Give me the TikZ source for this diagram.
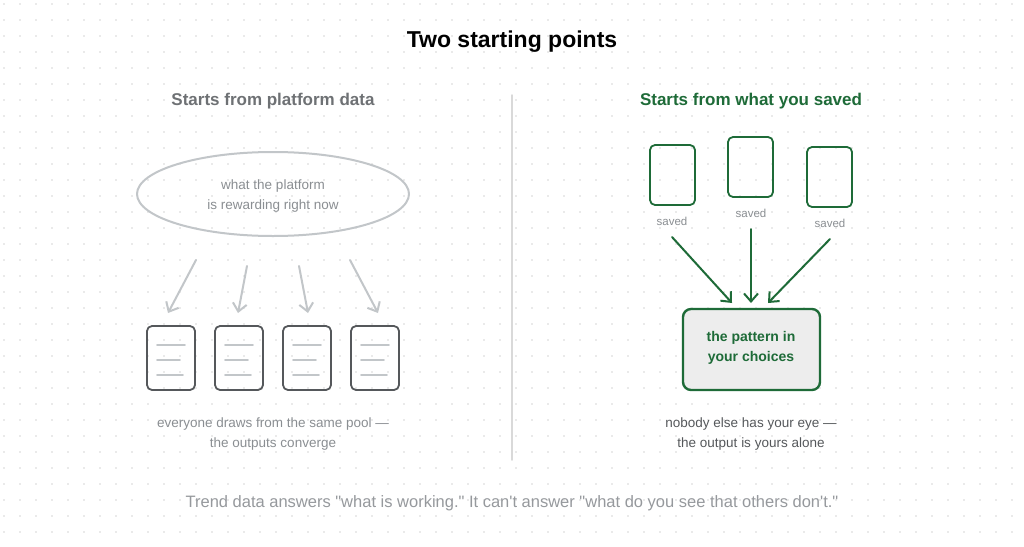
\documentclass[tikz,border=0pt]{standalone}
\usepackage{fontspec}
\setmainfont[Ligatures=TeXOff]{Liberation Sans}
\usetikzlibrary{arrows.meta}
\definecolor{leafgreen}{HTML}{1E6B38}
\definecolor{mutedgray}{HTML}{8A8E92}
\definecolor{paleline}{HTML}{C2C6C9}
\definecolor{docedge}{HTML}{55585B}
\tikzset{
  doc/.style={draw=docedge,line width=1.8pt,rounded corners=5pt},
  keep/.style={draw=leafgreen,line width=1.8pt,rounded corners=5pt},
  drift/.style={->,>={Straight Barb[length=8pt,width=14pt]},draw=paleline,line width=2pt},
  pull/.style={->,>={Straight Barb[length=8pt,width=14pt]},draw=leafgreen,line width=2pt},
}
\begin{document}
\begin{tikzpicture}[x=1pt,y=-1pt,line cap=round,line join=round]
  \useasboundingbox (0,0) rectangle (1024,546);
  \fill[white] (0,0) rectangle (1024,546);
  % dotted paper
  \foreach \i in {0,...,64}
    \foreach \j in {0,...,34}
      \fill[black!16] (\i*16+4,\j*16+4) circle (0.8pt);
  \node (title) at (512,42) {\fontsize{23}{26}\selectfont\bfseries Two starting points};
  \node[text=docedge!85] (lefthead) at (273,101) {\fontsize{17}{20}\selectfont\bfseries Starts from platform data};
  \node[text=leafgreen] (righthead) at (751,101) {\fontsize{17}{20}\selectfont\bfseries Starts from what you saved};
  \draw[black!15,line width=1.5pt] (512,95) -- (512,460);
  % left side
  \draw[paleline,line width=2pt] (273,194) ellipse (136 and 42);
  \node[text=mutedgray,align=center,font=\fontsize{13.5}{20}\selectfont] (pool) at (273,196) {what the platform\\is rewarding right now};
  \foreach \k/\xa/\ya/\xb in {1/196/260/168,2/247/266/238,3/299/266/308,4/350/260/378}
    \draw[drift] (\xa,\ya) -- (\xb,313);
  \foreach \k/\x in {1/147,2/215,3/283,4/351} {
    \draw[doc] (\x,326) rectangle (\x+48,390);
    \draw[paleline,line width=1.6pt] (\x+10,345) -- (\x+38,345)
      (\x+10,360) -- (\x+33,360) (\x+10,375) -- (\x+36,375);
  }
  \node[text=mutedgray,align=center,font=\fontsize{13.5}{20}\selectfont] (leftnote) at (273,434) {everyone draws from the same pool —\\the outputs converge};
  % right side
  \draw[keep] (650,145) rectangle (695,205);
  \draw[keep] (728,137) rectangle (773,197);
  \draw[keep] (807,147) rectangle (852,207);
  \node[text=mutedgray,font=\fontsize{11.5}{13}\selectfont] (s1) at (672,221) {saved};
  \node[text=mutedgray,font=\fontsize{11.5}{13}\selectfont] (s2) at (751,213) {saved};
  \node[text=mutedgray,font=\fontsize{11.5}{13}\selectfont] (s3) at (830,223) {saved};
  \draw[keep,line width=2.4pt,fill=black!7,rounded corners=8pt] (683,309) rectangle (820,390);
  \node[text=leafgreen,align=center,font=\fontsize{14}{20}\selectfont\bfseries] (pattern) at (751,348) {the pattern in\\your choices};
  \draw[pull] (672,237) -- (732,303);
  \draw[pull] (751,229) -- (751,303);
  \draw[pull] (830,239) -- (768,303);
  \node[text=docedge,align=center,font=\fontsize{13.5}{20}\selectfont] (rightnote) at (751,434) {nobody else has your eye —\\the output is yours alone};
  \node[text=mutedgray!90,font=\fontsize{16.5}{19}\selectfont] (footer) at (512,503) {Trend data answers "what is working." It can't answer "what do you see that others don't."};
\end{tikzpicture}
\end{document}
